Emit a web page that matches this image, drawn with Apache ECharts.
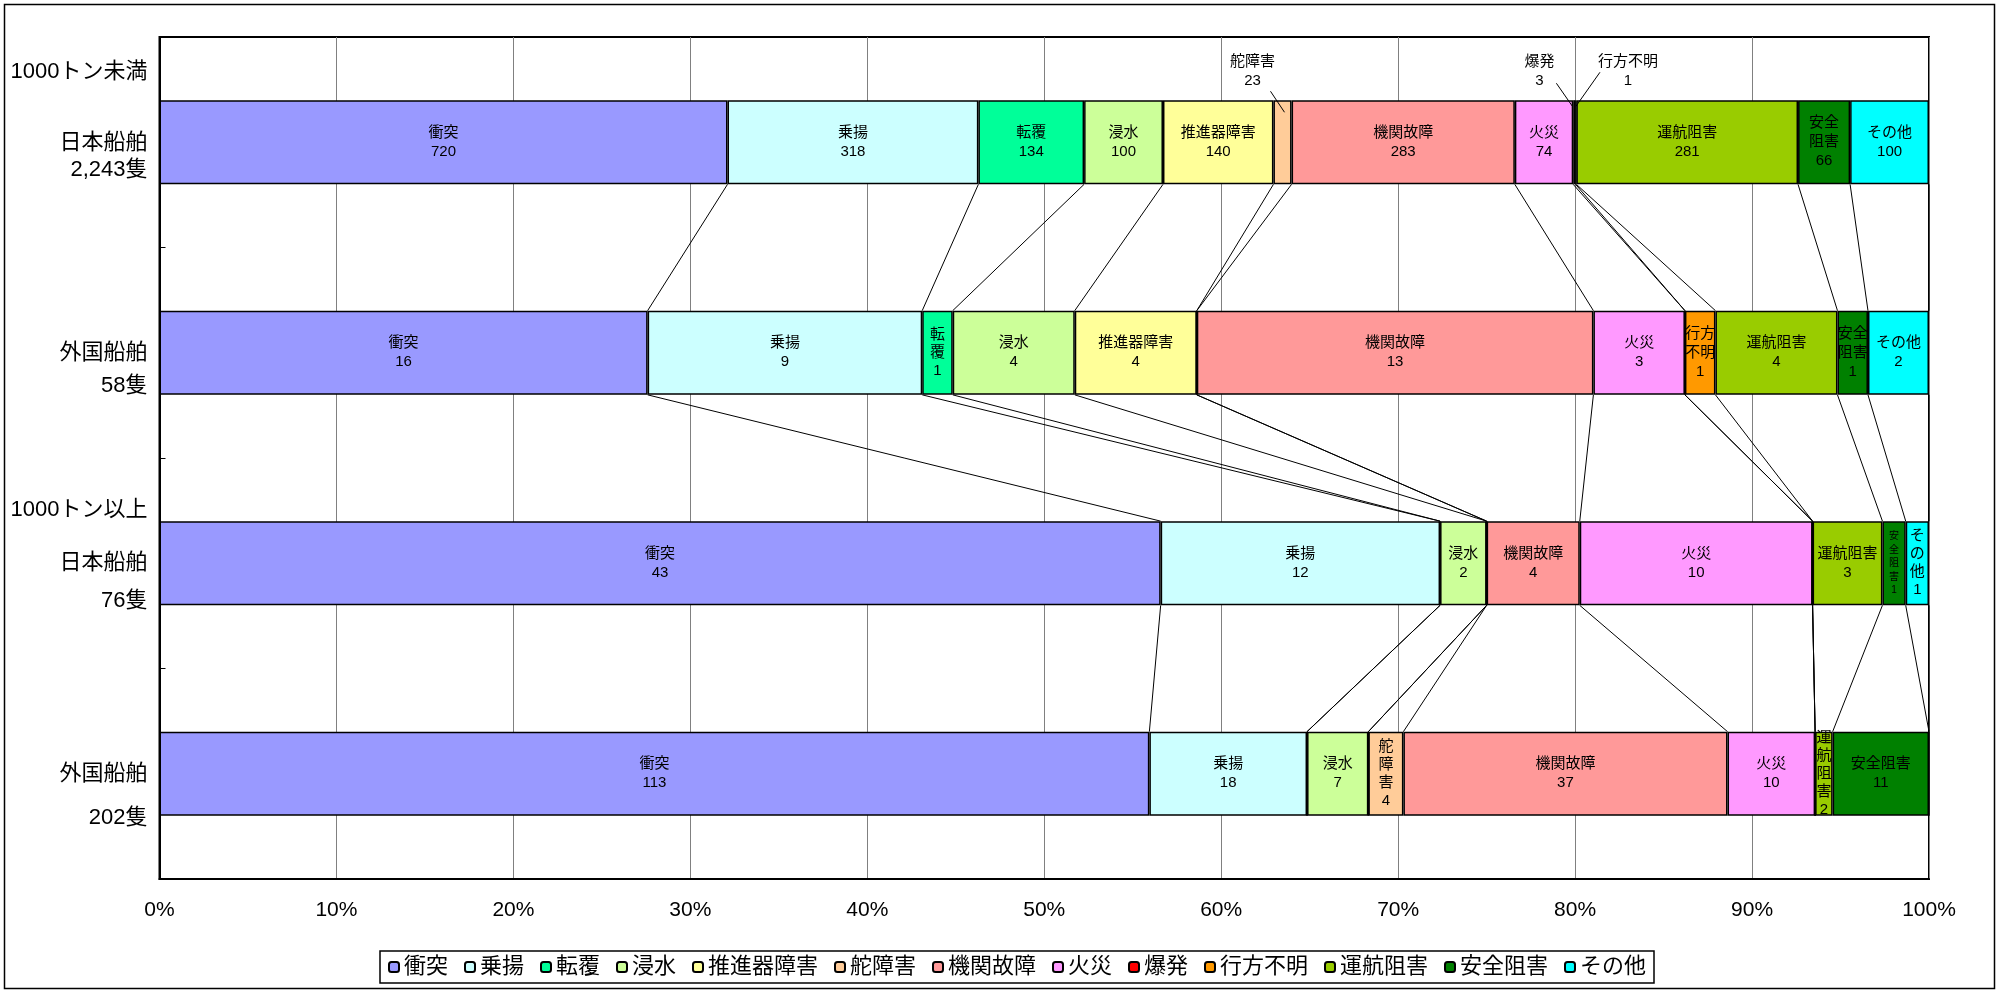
<!DOCTYPE html>
<html lang="ja">
<head>
<meta charset="utf-8">
<title>海難種類別 船舶隻数</title>
<script src="https://cdn.jsdelivr.net/npm/echarts@6/dist/echarts.min.js"></script>
<style>
    html, body { margin: 0; padding: 0; background: #fff; }
    #chart { width: 2002px; height: 992px; }
</style>
</head>
<body>
<div id="chart"></div>
<script>
// 海難の種類（凡例の順）
var 種類 = ['衝突', '乗揚', '転覆', '浸水', '推進器障害', '舵障害', '機関故障', '火災', '爆発', '行方不明', '運航阻害', '安全阻害', 'その他'];

// 種類ごとの隻数
var 日本船舶_1000トン未満 = [720, 318, 134, 100, 140, 23, 283, 74, 3, 1, 281, 66, 100];
var 外国船舶_1000トン未満 = [16, 9, 1, 4, 4, 0, 13, 3, 0, 1, 4, 1, 2];
var 日本船舶_1000トン以上 = [43, 12, 0, 2, 0, 0, 4, 10, 0, 0, 3, 1, 1];
var 外国船舶_1000トン以上 = [113, 18, 0, 7, 0, 4, 37, 10, 0, 0, 2, 11, 0];

// 縦軸のカテゴリ
var 区分 = ['日本船舶\n2,243隻', '外国船舶\n58隻', '日本船舶\n76隻', '外国船舶\n202隻'];
var トン数区分 = ['1000トン未満', '', '1000トン以上', ''];

// 横軸の目盛
var 目盛 = ['0%', '10%', '20%', '30%', '40%', '50%', '60%', '70%', '80%', '90%', '100%'];

var 色 = ['#9999FF', '#CCFFFF', '#00FF99', '#CCFF99', '#FFFF99', '#FFCC99', '#FF9999',
          '#FF99FF', '#FF0000', '#FF9900', '#99CC00', '#008000', '#00FFFF'];

var 字体 = "'Liberation Sans', 'Noto Sans CJK JP', sans-serif";
var 字体_細 = "'Liberation Sans Narrow', 'Liberation Sans', 'Noto Sans CJK JP', sans-serif";

// 縦軸ラベルの行の高さ（カテゴリごと）
var ラベル行高 = [
    [115, 27, 27, 86],
    [33, 33, 33],
    [68, 38, 38, 30],
    [44, 44, 44]
];

// 狭いセルの折り返し方  'v' 1文字ずつ / 'v2' 2文字ずつ / 'vs' 小さい字で1文字ずつ
var 折返し = {
    '0-11': 'v2',
    '1-2': 'v', '1-9': 'v2', '1-11': 'v2',
    '2-11': 'vs', '2-12': 'v',
    '3-5': 'v', '3-10': 'v'
};

// バーの外に出したラベル（セル中心からのずれ）と引出線
var 外ラベル = {
    '0-5': { offset: [-30, -71], line: [-12, -51, 2, -30] },
    '0-8': { offset: [-35, -71], line: [-18, -59, -2, -36] },
    '0-9': { offset: [52, -71], line: [24, -70, 0, -36] }
};

(function () {
    var 全データ = [日本船舶_1000トン未満, 外国船舶_1000トン未満, 日本船舶_1000トン以上, 外国船舶_1000トン以上];
    var 合計 = 全データ.map(function (a) { return a.reduce(function (s, v) { return s + v; }, 0); });

    // 累積の割合（各種類の右端）
    var 累積 = 全データ.map(function (a, i) {
        var s = 0;
        return a.map(function (v) { s += v; return s / 合計[i] * 100; });
    });

    function ラベル文字(name, raw, mode) {
        if (mode === 'v' || mode === 'vs') return name.split('').join('\n') + '\n' + raw;
        if (mode === 'v2') return name.match(/.{1,2}/g).join('\n') + '\n' + raw;
        return name + '\n' + raw;
    }

    var 棒 = 種類.map(function (name, k) {
        return {
            type: 'bar',
            name: name,
            stack: 'total',
            barWidth: '40%',
            itemStyle: { color: 色[k], borderColor: '#000', borderWidth: 1.5 },
            label: {
                show: true,
                position: 'inside',
                color: '#000',
                fontSize: 15,
                lineHeight: 19,
                fontFamily: 字体,
                formatter: function (p) {
                    if (!p.data.raw) return '';
                    return ラベル文字(name, p.data.raw, 折返し[p.dataIndex + '-' + k]);
                }
            },
            data: 全データ.map(function (a, i) {
                var item = { value: a[k] / 合計[i] * 100, raw: a[k] };
                var key = i + '-' + k;
                if (折返し[key] === 'vs') item.label = { fontSize: 10, lineHeight: 13.5 };
                if (折返し[key] === 'v') item.label = { lineHeight: 18 };
                if (外ラベル[key]) item.label = { offset: 外ラベル[key].offset, lineHeight: 18.5 };
                return item;
            })
        };
    });

    // 系列線：上の棒の下辺から下の棒の上辺へ
    var 系列線 = [];
    for (var i = 0; i < 全データ.length - 1; i++) {
        for (var k = 0; k < 種類.length; k++) {
            系列線.push([累積[i][k], i, 累積[i + 1][k], i + 1]);
        }
    }

    // 引出線
    var 引出線 = [];
    Object.keys(外ラベル).forEach(function (key) {
        var i = +key.split('-')[0], k = +key.split('-')[1];
        var 前 = k > 0 ? 累積[i][k - 1] : 0;
        引出線.push([(前 + 累積[i][k]) / 2, i, key]);
    });

    var option = {
        animation: false,
        backgroundColor: '#fff',
        graphic: [{
            type: 'rect',
            shape: { x: 4.5, y: 4.5, width: 1990, height: 984 },
            style: { fill: 'none', stroke: '#000', lineWidth: 1.5 },
            silent: true
        }],
        grid: { left: 159.5, right: 73, top: 37, bottom: 113, show: true, borderColor: '#000', borderWidth: 2 },
        legend: {
            data: 種類,
            left: 380,
            top: 951,
            itemWidth: 10,
            itemHeight: 10,
            itemGap: 16,
            padding: [5, 8],
            borderColor: '#000',
            borderWidth: 1.5,
            textStyle: { fontSize: 22, color: '#000', fontFamily: 字体 }
        },
        xAxis: {
            type: 'value',
            min: 0,
            max: 100,
            interval: 10,
            axisLine: { show: true, lineStyle: { color: '#000', width: 2 } },
            axisTick: { show: false },
            splitLine: { show: true, lineStyle: { color: '#808080', width: 1 } },
            axisLabel: {
                margin: 21,
                fontSize: 21,
                color: '#000',
                fontFamily: 字体_細,
                formatter: function (v) { return 目盛[Math.round(v / 10)]; }
            }
        },
        yAxis: {
            type: 'category',
            inverse: true,
            data: 区分,
            axisLine: { show: true, lineStyle: { color: '#000', width: 2 } },
            axisTick: { show: true, inside: true, length: 6, lineStyle: { color: '#000' } },
            axisLabel: {
                margin: 12,
                color: '#000',
                fontSize: 22,
                fontFamily: 字体,
                align: 'right',
                rich: (function () {
                    var r = {};
                    ラベル行高.forEach(function (hs) {
                        hs.forEach(function (h) {
                            r['h' + h] = { lineHeight: h, fontSize: 22, fontFamily: 字体, color: '#000', align: 'right' };
                        });
                    });
                    return r;
                })(),
                formatter: function (value, index) {
                    var parts = value.split('\n');
                    var lines = トン数区分[index] ? [トン数区分[index], parts[0], parts[1], ' '] : [' ', parts[0], parts[1]];
                    return lines.map(function (t, j) {
                        return '{h' + ラベル行高[index][j] + '|' + t + '}';
                    }).join('\n');
                }
            }
        },
        series: 棒.concat([
            {
                type: 'custom',
                silent: true,
                z: 5,
                encode: { x: [0, 2], y: [1, 3] },
                renderItem: function (params, api) {
                    var p1 = api.coord([api.value(0), api.value(1)]);
                    var p2 = api.coord([api.value(2), api.value(3)]);
                    var half = api.size([0, 1])[1] * 0.4 / 2;
                    return {
                        type: 'line',
                        shape: { x1: p1[0], y1: p1[1] + half, x2: p2[0], y2: p2[1] - half },
                        style: { stroke: '#000', lineWidth: 1 }
                    };
                },
                data: 系列線
            },
            {
                type: 'custom',
                silent: true,
                z: 5,
                encode: { x: 0, y: 1 },
                renderItem: function (params, api) {
                    var p = api.coord([api.value(0), api.value(1)]);
                    var l = 外ラベル[引出線[params.dataIndex][2]].line;
                    return {
                        type: 'line',
                        shape: { x1: p[0] + l[0], y1: p[1] + l[1], x2: p[0] + l[2], y2: p[1] + l[3] },
                        style: { stroke: '#000', lineWidth: 1 }
                    };
                },
                data: 引出線
            }
        ])
    };

    var myechart = echarts.init(document.getElementById('chart'));
    myechart.setOption(option);
})();
</script>
</body>
</html>
